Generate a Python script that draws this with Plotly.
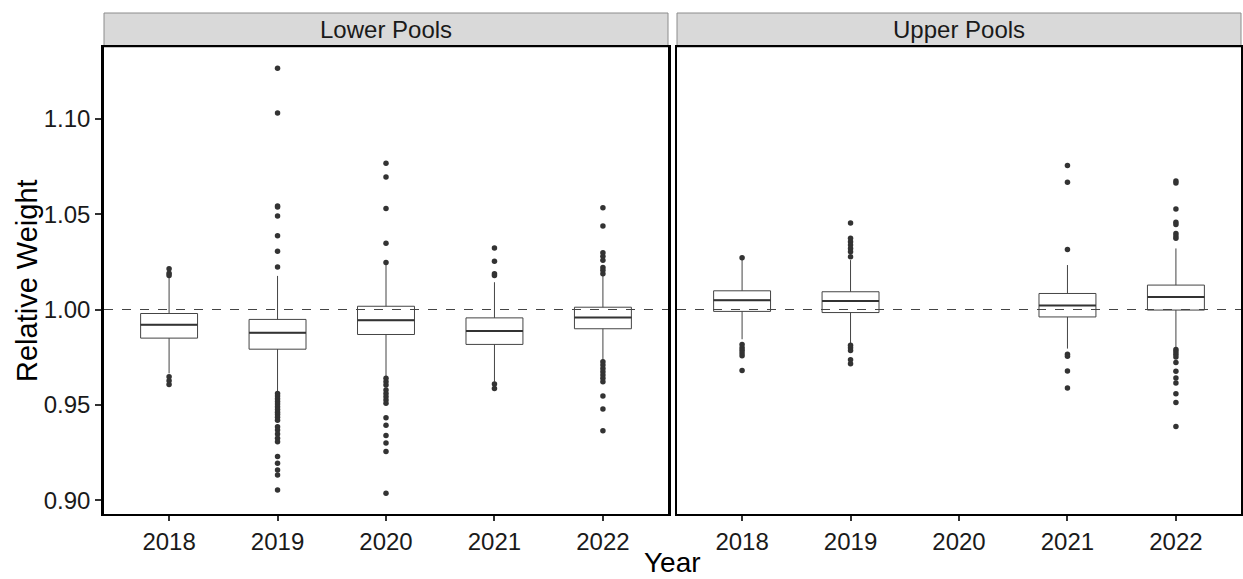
import plotly.graph_objects as go

YEARS_ALL = ["2018", "2019", "2020", "2021", "2022"]
PANELS = ["Lower Pools", "Upper Pools"]

# Lower Pools box statistics
lower_years = ["2018", "2019", "2020", "2021", "2022"]
lower_lowfence = [0.9665, 0.9569, 0.9647, 0.9621, 0.9731]
lower_q1 = [0.9850, 0.9792, 0.9869, 0.9817, 0.9899]
lower_median = [0.9920, 0.9878, 0.9944, 0.9887, 0.9958]
lower_q3 = [0.9979, 0.9948, 1.0017, 0.9956, 1.0012]
lower_upfence = [1.0165, 1.0176, 1.0235, 1.0143, 1.0180]

lower_out_2018 = [1.0213, 1.0190, 1.0178, 0.9647, 0.9627, 0.9607]
lower_out_2019 = [1.1264, 1.1030, 1.0543, 1.0537, 1.0490, 1.0386, 1.0305, 1.0223,
                  0.9560, 0.9546, 0.9532, 0.9518, 0.9504, 0.9490, 0.9476, 0.9462,
                  0.9449, 0.9435, 0.9420, 0.9386, 0.9368, 0.9347, 0.9325, 0.9307,
                  0.9229, 0.9194, 0.9159, 0.9133, 0.9054]
lower_out_2020 = [1.0766, 1.0695, 1.0529, 1.0347, 1.0246,
                  0.9639, 0.9621, 0.9604, 0.9578, 0.9560, 0.9543, 0.9525, 0.9508,
                  0.9433, 0.9393, 0.9340, 0.9300, 0.9255, 0.9037]
lower_out_2021 = [1.0323, 1.0253, 1.0188, 1.0178, 0.9609, 0.9586]
lower_out_2022 = [1.0534, 1.0438, 1.0297, 1.0279, 1.0258, 1.0220, 1.0206, 1.0188,
                  0.9726, 0.9709, 0.9691, 0.9674, 0.9656, 0.9639, 0.9621,
                  0.9546, 0.9478, 0.9365]

# Upper Pools box statistics (no 2020 data)
upper_years = ["2018", "2019", "2021", "2022"]
upper_lowfence = [0.9844, 0.9821, 0.9795, 0.9800]
upper_q1 = [0.9990, 0.9984, 0.9961, 0.9997]
upper_median = [1.0049, 1.0044, 1.0021, 1.0065]
upper_q3 = [1.0098, 1.0093, 1.0084, 1.0128]
upper_upfence = [1.0260, 1.0259, 1.0233, 1.0320]

upper_out_2018 = [1.0271, 0.9816, 0.9800, 0.9786, 0.9772, 0.9758, 0.9680]
upper_out_2019 = [1.0453, 1.0373, 1.0355, 1.0338, 1.0320, 1.0303, 1.0277,
                  0.9813, 0.9799, 0.9785, 0.9737, 0.9716]
upper_out_2021 = [1.0755, 1.0667, 1.0315, 0.9765, 0.9755, 0.9678, 0.9589]
upper_out_2022 = [1.0674, 1.0663, 1.0527, 1.0457, 1.0445, 1.0399, 1.0385, 1.0373,
                  0.9790, 0.9778, 0.9765, 0.9751, 0.9722, 0.9676, 0.9641, 0.9615,
                  0.9559, 0.9512, 0.9387]

Y_TICKS = [0.90, 0.95, 1.00, 1.05, 1.10]
Y_TICK_TEXT = ["0.90", "0.95", "1.00", "1.05", "1.10"]
REF_LINE = 1.0

FONT = "Liberation Sans, Arial, sans-serif"
INK = "#1a1a1a"
BOX_LINE = "#444444"
PT = "#333333"

fig = go.Figure()

panels = [
    ("x", "y", lower_years, lower_lowfence, lower_q1, lower_median, lower_q3, lower_upfence,
     {"2018": lower_out_2018, "2019": lower_out_2019, "2020": lower_out_2020,
      "2021": lower_out_2021, "2022": lower_out_2022}),
    ("x2", "y2", upper_years, upper_lowfence, upper_q1, upper_median, upper_q3, upper_upfence,
     {"2018": upper_out_2018, "2019": upper_out_2019,
      "2021": upper_out_2021, "2022": upper_out_2022}),
]

for xa, ya, yrs, lf, q1, med, q3, uf, outs in panels:
    fig.add_trace(go.Box(
        x=yrs, q1=q1, median=med, q3=q3, lowerfence=lf, upperfence=uf,
        xaxis=xa, yaxis=ya, fillcolor="white",
        line=dict(color=BOX_LINE, width=1), whiskerwidth=0,
        boxpoints=False, showlegend=False, hoverinfo="skip",
    ))
    # thicker median line (zero-height box at the median)
    fig.add_trace(go.Box(
        x=yrs, q1=med, median=med, q3=med, lowerfence=med, upperfence=med,
        xaxis=xa, yaxis=ya, fillcolor="rgba(0,0,0,0)",
        line=dict(color=PT, width=2), whiskerwidth=0,
        boxpoints=False, showlegend=False, hoverinfo="skip",
    ))
    for yr, vals in outs.items():
        fig.add_trace(go.Scatter(
            x=[yr] * len(vals), y=vals, mode="markers",
            marker=dict(color=PT, size=5.5),
            xaxis=xa, yaxis=ya, showlegend=False, hoverinfo="skip",
        ))

L, R, T, B = 104, 2, 47, 65
W, H = 1243, 579
pw = W - L - R
ph = H - T - B
d1 = [0.0, (668 - L) / pw]
d2 = [(677 - L) / pw, 1.0]

axis_common = dict(
    type="category", categoryorder="array", categoryarray=YEARS_ALL,
    range=[-0.6, 4.6], showline=True, linecolor="black", linewidth=2,
    mirror=True, ticks="outside", ticklen=5, tickwidth=2, tickcolor="#333333",
    showgrid=False, zeroline=False, automargin=False,
    tickfont=dict(family=FONT, size=24, color=INK),
)
y_range = [0.8928, 1.1376]

fig.update_layout(
    width=W, height=H,
    margin=dict(l=L, r=R, t=T, b=B),
    paper_bgcolor="white", plot_bgcolor="white",
    boxmode="overlay", boxgap=0.25,
    font=dict(family=FONT, color=INK),
    xaxis=dict(domain=d1, anchor="y", **axis_common),
    xaxis2=dict(domain=d2, anchor="y2", **axis_common),
    yaxis=dict(range=y_range, tickvals=Y_TICKS, ticktext=Y_TICK_TEXT,
               showline=True, linecolor="black", linewidth=2.5, mirror=True,
               ticks="outside", ticklen=6, tickwidth=2, tickcolor="#333333",
               showgrid=False, zeroline=False, automargin=False,
               tickfont=dict(family=FONT, size=24, color=INK), anchor="x"),
    yaxis2=dict(range=y_range, matches="y", showticklabels=False, ticks="",
                showline=True, linecolor="black", linewidth=2, mirror=True,
                showgrid=False, zeroline=False, automargin=False, anchor="x2"),
)

strip_top = (H - 13 - B) / ph
for i, (xa, ya) in enumerate([("x", "y"), ("x2", "y2")]):
    fig.add_shape(type="line", xref=f"{xa} domain", yref=ya, x0=0, x1=1,
                  y0=REF_LINE, y1=REF_LINE,
                  line=dict(color="#444444", width=1, dash="dash"), layer="above")
    fig.add_shape(type="rect", xref=f"{xa} domain", yref="paper", x0=0, x1=1,
                  y0=1.0, y1=strip_top, fillcolor="#D9D9D9",
                  line=dict(color="#8c8c8c", width=1), layer="below")
    fig.add_annotation(text=PANELS[i], xref=f"{xa} domain", yref="paper",
                       x=0.5, y=(1.0 + strip_top) / 2, showarrow=False,
                       xanchor="center", yanchor="middle",
                       font=dict(family=FONT, size=24, color=INK))

fig.add_annotation(text="Relative Weight", xref="paper", yref="paper",
                   x=(27 - L) / pw, y=((H - B) - 281) / ph, textangle=-90,
                   showarrow=False, xanchor="center", yanchor="middle",
                   font=dict(family=FONT, size=29, color="black"))
fig.add_annotation(text="Year", xref="paper", yref="paper",
                   x=(672 - L) / pw, y=-(562 - (H - B)) / ph,
                   showarrow=False, xanchor="center", yanchor="middle",
                   font=dict(family=FONT, size=28, color="black"))

fig.write_html("out.html",
               config={"displayModeBar": False},
               post_script="document.body.style.margin='0';"
                           "document.body.style.overflow='hidden';")
